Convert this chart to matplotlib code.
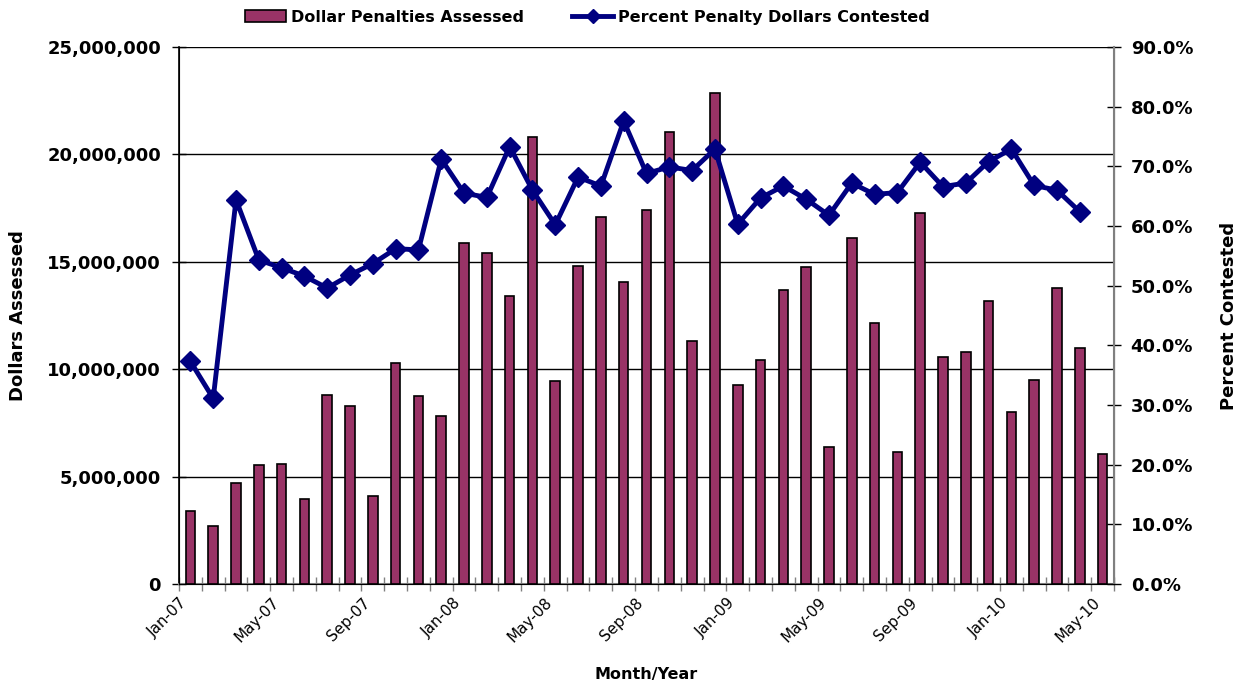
import numpy as np
import matplotlib.pyplot as plt
from matplotlib.lines import Line2D
from matplotlib.patches import Patch
from matplotlib.ticker import FuncFormatter

plt.rcParams['font.family'] = ['DejaVu Sans']

months = ['Jan-07', 'Feb-07', 'Mar-07', 'Apr-07', 'May-07', 'Jun-07', 'Jul-07', 'Aug-07',
          'Sep-07', 'Oct-07', 'Nov-07', 'Dec-07', 'Jan-08', 'Feb-08', 'Mar-08', 'Apr-08',
          'May-08', 'Jun-08', 'Jul-08', 'Aug-08', 'Sep-08', 'Oct-08', 'Nov-08', 'Dec-08',
          'Jan-09', 'Feb-09', 'Mar-09', 'Apr-09', 'May-09', 'Jun-09', 'Jul-09', 'Aug-09',
          'Sep-09', 'Oct-09', 'Nov-09', 'Dec-09', 'Jan-10', 'Feb-10', 'Mar-10', 'Apr-10',
          'May-10']

dollars = [3.41, 2.70, 4.69, 5.52, 5.60, 3.97, 8.80, 8.30, 4.10, 10.30, 8.75, 7.82,
           15.87, 15.40, 13.41, 20.80, 9.47, 14.80, 17.09, 14.07, 17.43, 21.03, 11.33, 22.84,
           9.28, 10.42, 13.69, 14.77, 6.36, 16.09, 12.14, 6.13, 17.26, 10.55, 10.80, 13.18,
           8.01, 9.50, 13.79, 10.99, 6.04]
dollars = [d * 1e6 for d in dollars]

pct = [37.3, 31.1, 64.4, 54.3, 53.0, 51.6, 49.6, 51.8, 53.7, 56.2, 56.0, 71.2,
       65.5, 64.8, 73.3, 66.0, 60.2, 68.2, 66.7, 77.6, 68.8, 69.9, 69.3, 72.9,
       60.3, 64.7, 66.7, 64.5, 61.8, 67.2, 65.3, 65.6, 70.7, 66.6, 67.2, 70.8,
       72.9, 66.8, 66.0, 62.4, np.nan]

bar_color = '#993366'
line_color = '#000080'

fig = plt.figure(figsize=(12.44, 6.85), dpi=100)
ax = fig.add_axes([0.1439, 0.1474, 0.7516, 0.784])
x = np.arange(len(months))

ax.bar(x, dollars, width=0.42, color=bar_color, edgecolor='black', linewidth=1.2, zorder=3)
ax.set_xlim(-0.5, len(months) - 0.5)
ax.set_ylim(0, 25e6)
ax.set_yticks(np.arange(0, 25e6 + 1, 5e6))
ax.yaxis.set_major_formatter(FuncFormatter(lambda v, p: '{:,.0f}'.format(v)))
ax.grid(axis='y', color='black', linewidth=1.0, zorder=0)
ax.tick_params(axis='y', direction='inout', length=10, width=1, labelsize=13, pad=8)
for t in ax.get_yticklabels():
    t.set_fontweight('bold')

# tick marks on the category boundaries, labels every fourth month
ax.set_xticks(np.arange(-0.5, len(months), 1.0))
ax.set_xticklabels([])
ax.tick_params(axis='x', which='major', direction='inout', length=10, width=1, color='#808080')
ax.set_xticks(x[::4], minor=True)
ax.set_xticklabels(months[::4], minor=True, rotation=45, ha='right', fontsize=11)
ax.tick_params(axis='x', which='minor', length=0, pad=8)

ax.spines['top'].set_visible(False)
ax.spines['bottom'].set_color('#808080')
ax.spines['bottom'].set_linewidth(1.5)
ax.spines['left'].set_linewidth(1.2)
ax.set_xlabel('Month/Year', fontsize=11.5, fontweight='bold')
ax.xaxis.set_label_coords(0.5, -0.155)
ax.set_ylabel('Dollars Assessed', fontsize=13, fontweight='bold')
ax.yaxis.set_label_coords(-0.163, 0.5)

ax2 = ax.twinx()
ax2.plot(x, pct, color=line_color, linewidth=3.5, marker='D', markersize=10, zorder=4)
ax2.set_ylim(0, 90)
ax2.set_yticks(np.arange(0, 91, 10))
ax2.yaxis.set_major_formatter(FuncFormatter(lambda v, p: '{:.1f}%'.format(v)))
ax2.tick_params(axis='y', direction='inout', length=10, width=1, labelsize=13, pad=7)
for t in ax2.get_yticklabels():
    t.set_fontweight('bold')
ax2.spines['top'].set_visible(False)
ax2.spines['right'].set_color('#808080')
ax2.spines['right'].set_linewidth(1.5)
ax2.set_ylabel('Percent Contested', fontsize=13, fontweight='bold')
ax2.yaxis.set_label_coords(1.1134, 0.5)

handles = [Patch(facecolor=bar_color, edgecolor='black', linewidth=1.2),
           Line2D([], [], color=line_color, linewidth=3.5, marker='D', markersize=7)]
fig.legend(handles, ['Dollar Penalties Assessed', 'Percent Penalty Dollars Contested'],
           loc='center', bbox_to_anchor=(0.472, 0.975), ncol=2, frameon=False,
           prop={'weight': 'bold', 'size': 11.5}, columnspacing=3.0, handlelength=2.6,
           handletextpad=0.3)

fig.savefig('out.png', dpi=100)
